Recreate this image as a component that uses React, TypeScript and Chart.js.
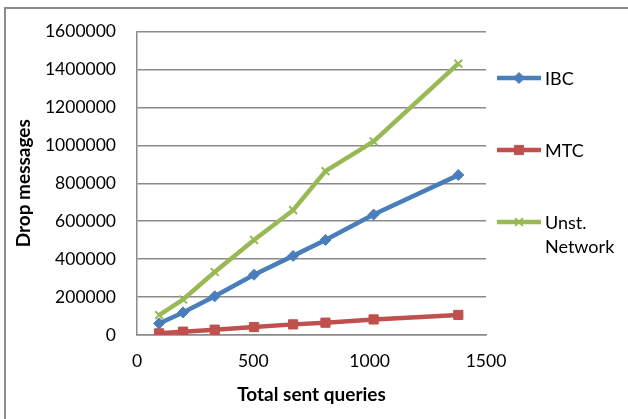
import React, { useEffect, useRef } from "react";
import { Chart, registerables } from "chart.js";
import { drawPoint } from "chart.js/helpers";

Chart.register(...registerables);

const QUERIES = [95, 198, 334, 503, 671, 810, 1017, 1381];
const IBC = [61000, 119000, 204000, 318000, 417000, 501000, 635000, 843000];
const MTC = [8700, 17500, 28000, 42000, 56000, 65000, 82000, 106000];
const UNST = [105000, 187000, 332000, 501000, 658000, 864000, 1021000, 1431000];
const SERIES_LABELS = ["IBC", "MTC", "Unst. Network"];

const FONT = "Lato, 'Open Sans', sans-serif";
const GRID = "#8a8a8a";

const sideLegend = {
  id: "sideLegend",
  afterDraw(chart: any) {
    const { ctx, chartArea } = chart;
    const x0 = chartArea.right + 11;
    const x1 = chartArea.right + 55;
    const tx = x1 + 4;
    const maxW = 628 - tx - 4;
    chart.data.datasets.forEach((ds: any, i: number) => {
      const y = 78 + i * 72;
      ctx.save();
      ctx.strokeStyle = ds.borderColor;
      ctx.fillStyle = ds.borderColor;
      ctx.lineWidth = ds.borderWidth;
      ctx.lineCap = "butt";
      ctx.beginPath();
      ctx.moveTo(x0, y);
      ctx.lineTo(x1, y);
      ctx.stroke();
      ctx.lineWidth = ds.pointBorderWidth;
      drawPoint(
        ctx,
        { pointStyle: ds.pointStyle, radius: ds.pointRadius, borderWidth: ds.pointBorderWidth, rotation: 0 },
        (x0 + x1) / 2,
        y
      );
      ctx.font = `18px ${FONT}`;
      ctx.fillStyle = "#000";
      ctx.textAlign = "left";
      ctx.textBaseline = "middle";
      const words = String(ds.label).split(" ");
      const lines: string[] = [];
      let cur = "";
      words.forEach((w) => {
        const t = cur ? cur + " " + w : w;
        if (cur && ctx.measureText(t).width > maxW) {
          lines.push(cur);
          cur = w;
        } else cur = t;
      });
      if (cur) lines.push(cur);
      lines.forEach((l, k) => ctx.fillText(l, tx, y + 1 + k * 24));
      ctx.restore();
    });
  },
};

export default function App() {
  const ref = useRef<HTMLCanvasElement | null>(null);
  useEffect(() => {
    if (!ref.current) return;
    const mk = (vals: number[]) => QUERIES.map((x, i) => ({ x, y: vals[i] }));
    const plain = (v: any) => String(v);
    const chart = new Chart(ref.current, {
      type: "line",
      data: {
        datasets: [
          {
            label: SERIES_LABELS[0],
            data: mk(IBC),
            borderColor: "#4a7ebb",
            backgroundColor: "#4a7ebb",
            borderWidth: 4.5,
            pointStyle: "rectRot",
            pointRadius: 5.5,
            pointBorderWidth: 1,
            tension: 0,
          },
          {
            label: SERIES_LABELS[1],
            data: mk(MTC),
            borderColor: "#c0504d",
            backgroundColor: "#c0504d",
            borderWidth: 4.5,
            pointStyle: "rect",
            pointRadius: 6.5,
            pointBorderWidth: 1,
            tension: 0,
          },
          {
            label: SERIES_LABELS[2],
            data: mk(UNST),
            borderColor: "#98b954",
            backgroundColor: "#98b954",
            borderWidth: 4.5,
            pointStyle: "crossRot",
            pointRadius: 5.5,
            pointBorderWidth: 2,
            tension: 0,
          },
        ],
      },
      options: {
        responsive: false,
        animation: false,
        layout: { padding: { top: 29, right: 142, left: 0, bottom: 0 } },
        plugins: { legend: { display: false }, tooltip: { enabled: false } },
        scales: {
          x: {
            type: "linear",
            min: 0,
            max: 1500,
            ticks: { stepSize: 500, color: "#000", font: { family: FONT, size: 17.5 }, padding: 16, callback: plain },
            grid: { display: false, drawTicks: false },
            border: { display: true, color: GRID, width: 1.5 },
            title: {
              display: true,
              text: "Total sent queries",
              color: "#000",
              font: { family: FONT, size: 19, weight: "bold" },
              padding: { top: 0, bottom: 13 },
            },
            afterFit: (s: any) => {
              s.height = 84;
            },
          },
          y: {
            min: 0,
            max: 1600000,
            ticks: { stepSize: 200000, color: "#000", font: { family: FONT, size: 17.5 }, padding: 21, callback: plain },
            grid: { color: GRID, lineWidth: 1.5, drawTicks: false },
            border: { display: true, color: GRID, width: 1.5 },
            title: {
              display: true,
              text: "Drop messages",
              color: "#000",
              font: { family: FONT, size: 19, weight: "bold" },
              padding: { top: 12, bottom: 0 },
            },
            afterFit: (s: any) => {
              s.width = 137;
            },
          },
        },
      },
      plugins: [sideLegend],
    });
    return () => chart.destroy();
  }, []);
  return (
    <div style={{ position: "fixed", left: 0, top: 0, width: 628, height: 419, overflow: "hidden", background: "#fff" }}>
      <div
        style={{
          position: "absolute",
          left: 4,
          top: 7,
          width: 700,
          height: 500,
          borderLeft: "2px solid #8c8c8c",
          borderTop: "2px solid #8c8c8c",
        }}
      />
      <canvas ref={ref} width={628} height={419} style={{ position: "absolute", left: 0, top: 0, display: "block" }} />
    </div>
  );
}
